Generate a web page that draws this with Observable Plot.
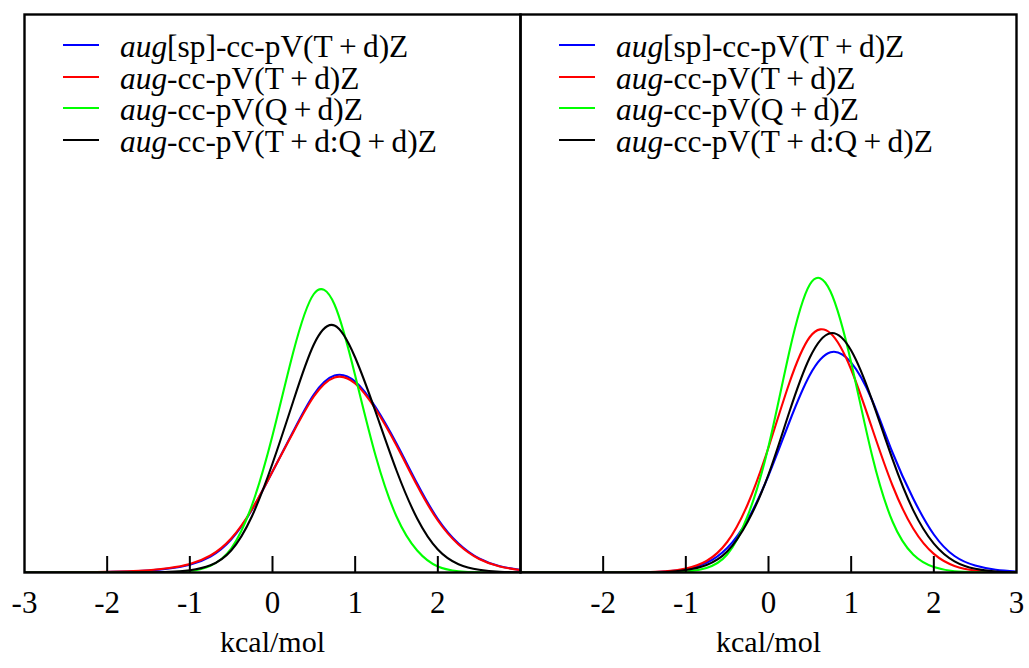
<!DOCTYPE html>
<html>
<head>
<meta charset="utf-8">
<script src="https://cdn.jsdelivr.net/npm/d3@7"></script>
<script src="https://cdn.jsdelivr.net/npm/@observablehq/plot@0.6"></script>
<style>
  html, body { margin: 0; padding: 0; background: #fff; }
  #wrap { position: relative; width: 1029px; height: 668px; font-family: "Liberation Serif", "DejaVu Serif", serif; color: #000; }
  #wrap svg { display: block; }
  .legend { position: absolute; font-size: 31.4px; font-family: "Liberation Serif", "DejaVu Serif", serif; }
  .row { display: flex; align-items: center; height: 31.7px; }
  .sw { width: 36px; height: 2px; margin-right: 21px; flex: none; }
  .lab { line-height: 31.7px; position: relative; top: 2px; white-space: nowrap; }
</style>
</head>
<body>
<div id="wrap"></div>
<script>
// ---- data (heights, arbitrary density units) ----
const xs = [-3, -2.75, -2.5, -2.25, -2, -1.75, -1.5, -1.25, -1, -0.75, -0.5, -0.25, 0,
            0.25, 0.5, 0.75, 1, 1.25, 1.5, 1.75, 2, 2.25, 2.5, 2.75, 3];

const seriesNames = ["aug[sp]-cc-pV(T+d)Z", "aug-cc-pV(T+d)Z", "aug-cc-pV(Q+d)Z", "aug-cc-pV(T+d:Q+d)Z"];
const seriesColors = ["#0000ff", "#ff0000", "#00ff00", "#000000"];
const panels = ["left", "right"];

// left panel
const leftBlue  = [0, 0, 0.001, 0.002, 0.005, 0.01, 0.02, 0.04, 0.078, 0.16, 0.33, 0.625, 1.01,
                   1.41, 1.78, 1.97, 1.91, 1.65, 1.29, 0.89, 0.535, 0.29, 0.14, 0.063, 0.026];
const leftRed   = [0, 0, 0.001, 0.0025, 0.006, 0.012, 0.023, 0.045, 0.085, 0.17, 0.34, 0.63, 1.01,
                   1.40, 1.76, 1.95, 1.89, 1.63, 1.27, 0.87, 0.52, 0.28, 0.135, 0.06, 0.024];
const leftGreen = [0, 0, 0, 0, 0, 0, 0.0002, 0.0025, 0.015, 0.068, 0.24, 0.67, 1.37,
                   2.20, 2.785, 2.68, 1.97, 1.16, 0.56, 0.22, 0.06, 0.013, 0.002, 0, 0];
const leftBlack = [0, 0, 0, 0, 0, 0.0002, 0.0012, 0.006, 0.023, 0.072, 0.22, 0.56, 1.09,
                   1.71, 2.28, 2.47, 2.15, 1.60, 1.02, 0.54, 0.23, 0.083, 0.028, 0.008, 0.002];

// right panel
const rightBlue  = [0, 0, 0, 0, 0.0003, 0.0005, 0.0022, 0.0092, 0.032, 0.097, 0.246, 0.531, 0.97,
                    1.50, 1.975, 2.202, 2.098, 1.73, 1.20, 0.74, 0.38, 0.165, 0.07, 0.028, 0.01];
const rightRed   = [0, 0, 0, 0, 0, 0.001, 0.0035, 0.012, 0.04, 0.115, 0.305, 0.685, 1.25,
                    1.89, 2.355, 2.393, 2.03, 1.45, 0.87, 0.44, 0.186, 0.066, 0.02, 0.005, 0.001];
const rightGreen = [0, 0, 0, 0, 0, 0, 0, 0.0015, 0.009, 0.046, 0.18, 0.57, 1.26,
                    2.20, 2.88, 2.81, 2.10, 1.18, 0.51, 0.18, 0.055, 0.013, 0.003, 0, 0];
const rightBlack = [0, 0, 0, 0, 0, 0.0002, 0.001, 0.005, 0.025, 0.075, 0.21, 0.51, 0.98,
                    1.60, 2.15, 2.393, 2.219, 1.729, 1.133, 0.624, 0.289, 0.112, 0.037, 0.01, 0.0023];

const leftTickLabels  = [-3, -2, -1, 0, 1, 2];
const rightTickLabels = [-2, -1, 0, 1, 2, 3];
const innerTicks = [-2, -1, 0, 1, 2];
const xLabel = "kcal/mol";
const xDomain = [-3, 3];
const yTop = 5.58;

// ---- build tables ----
const panelValues = [[leftBlue, leftRed, leftGreen, leftBlack], [rightBlue, rightRed, rightGreen, rightBlack]];
const rows = panels.flatMap((p, pi) =>
  panelValues[pi].flatMap((vals, si) =>
    vals.map((v, i) => ({panel: p, series: seriesNames[si], x: xs[i], y: v}))));
const tickRows = panels.flatMap(p => innerTicks.map(t => ({panel: p, x: t})));
const labelRows = [
  ...leftTickLabels.map(t => ({panel: "left", x: t, label: String(t)})),
  ...rightTickLabels.map(t => ({panel: "right", x: t, label: String(t)}))
];
const titleRows = panels.map(p => ({panel: p, x: 0, label: xLabel}));

const H = 668, MT = 14, MB = 96;
const innerH = H - MT - MB;
const FONT = "'Liberation Serif', 'DejaVu Serif', serif";

const chart = Plot.plot({
  width: 1029,
  height: H,
  marginTop: MT,
  marginBottom: MB,
  marginLeft: 24,
  marginRight: 12.5,
  style: {fontFamily: FONT, fontSize: "31px", background: "transparent", color: "#000"},
  x: {domain: xDomain, axis: null},
  y: {domain: [0, yTop], axis: null},
  fx: {domain: panels, padding: 0, axis: null},
  color: {domain: seriesNames, range: seriesColors},
  marks: [
    Plot.line(rows, {fx: "panel", x: "x", y: "y", z: "series", stroke: "series",
                     strokeWidth: 2.1, curve: "natural", clip: true}),
    Plot.tickX(tickRows, {fx: "panel", x: "x", insetTop: innerH - 16, stroke: "#000", strokeWidth: 2}),
    Plot.frame({stroke: "#000", strokeWidth: 2.4}),
    Plot.text(labelRows, {fx: "panel", x: "x", text: "label", frameAnchor: "bottom", dy: 40, fontSize: 31, fill: "#000", fontFamily: FONT}),
    Plot.text(titleRows, {fx: "panel", x: "x", text: "label", frameAnchor: "bottom", dy: 79, fontSize: 30, fill: "#000", fontFamily: FONT})
  ]
});

const wrap = document.getElementById("wrap");
wrap.appendChild(chart);

// ---- legends (HTML, one per panel) ----
function makeLegend(left, top) {
  const lg = document.createElement("div");
  lg.className = "legend";
  lg.style.left = left + "px";
  lg.style.top = top + "px";
  seriesNames.forEach((name, i) => {
    const row = document.createElement("div");
    row.className = "row";
    const sw = document.createElement("div");
    sw.className = "sw";
    sw.style.background = seriesColors[i];
    const lab = document.createElement("span");
    lab.className = "lab";
    const it = document.createElement("i");
    it.textContent = name.slice(0, 3);
    lab.appendChild(it);
    lab.appendChild(document.createTextNode(name.slice(3).replace(/\+/g, "\u2009+\u2009")));
    row.appendChild(sw);
    row.appendChild(lab);
    lg.appendChild(row);
  });
  wrap.appendChild(lg);
}
makeLegend(63, 29);
makeLegend(559, 29);
</script>
</body>
</html>
